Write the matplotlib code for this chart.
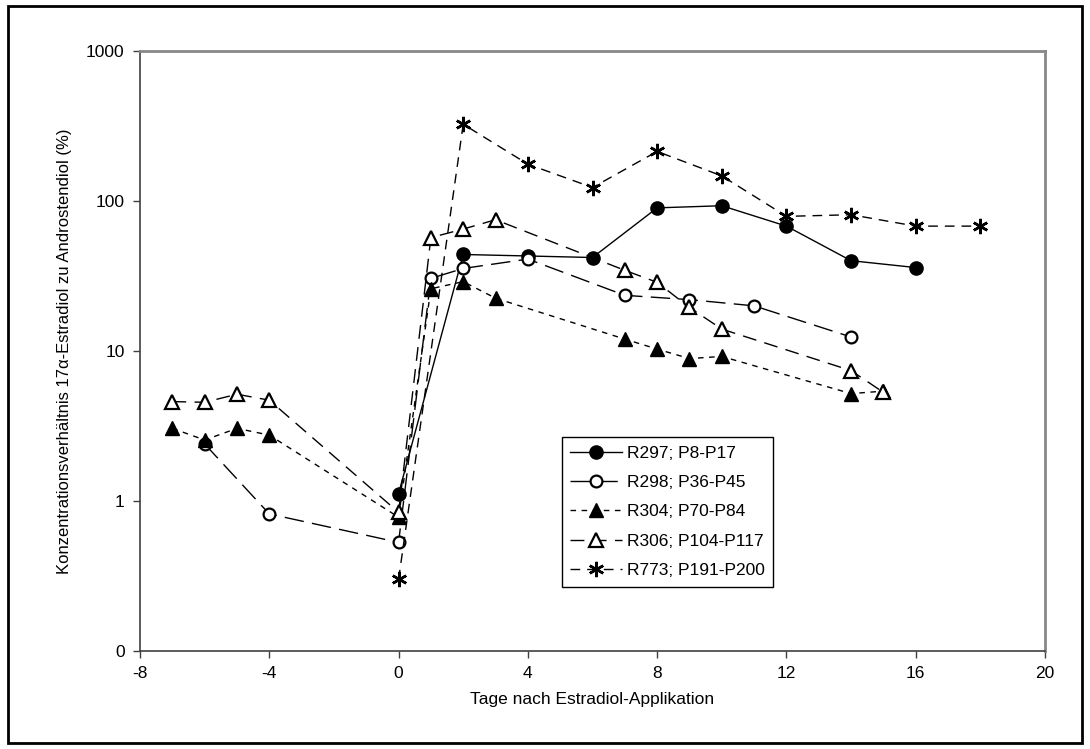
import numpy as np
import matplotlib.pyplot as plt
from matplotlib.patches import Rectangle
from matplotlib.ticker import FixedLocator, NullLocator

plt.rcParams['font.family'] = ['Liberation Sans', 'DejaVu Sans']
plt.rcParams['axes.unicode_minus'] = False

# Werte
r297_x = [0, 2, 4, 6, 8, 10, 12, 14, 16]
r297_y = [1.12, 44, 43, 42, 90, 93, 68, 40, 36]

r298_x = [-6, -4, 0, 1, 2, 4, 7, 9, 11, 14]
r298_y = [2.4, 0.82, 0.53, 30.5, 35.5, 41, 23.5, 22, 20, 12.4]

r304_x = [-7, -6, -5, -4, 0, 1, 2, 3, 7, 8, 9, 10, 14, 15]
r304_y = [3.05, 2.55, 3.05, 2.75, 0.78, 26, 29, 22.5, 12, 10.3, 8.9, 9.2, 5.2, 5.4]

r306_x = [-7, -6, -5, -4, 0, 1, 2, 3, 7, 8, 9, 10, 14, 15]
r306_y = [4.6, 4.55, 5.15, 4.7, 0.84, 57, 65, 75, 34.5, 28.7, 19.5, 14, 7.4, 5.3]

r773_x = [0, 2, 4, 6, 8, 10, 12, 14, 16, 18]
r773_y = [0.30, 325, 176, 123, 214, 147, 79, 81, 68, 68]

labels = ["R297; P8-P17", "R298; P36-P45", "R304; P70-P84",
          "R306; P104-P117", "R773; P191-P200"]

fig = plt.figure(figsize=(10.9, 7.49), dpi=100)
ax = fig.add_axes([140 / 1090, 1 - 651 / 749, 905 / 1090, 600 / 749])

ax.plot(r297_x, r297_y, color='black', lw=1.0, ls='-', marker='o',
        ms=9.5, mfc='black', mec='black', label=labels[0])
ax.plot(r298_x, r298_y, color='black', lw=1.0, ls=(0, (14, 6)), marker='o',
        ms=8.5, mfc='white', mec='black', mew=1.6, label=labels[1])
ax.plot(r304_x, r304_y, color='black', lw=1.0, ls=(0, (4, 4)), marker='^',
        ms=10, mfc='black', mec='black', label=labels[2])
ax.plot(r306_x, r306_y, color='black', lw=1.0, ls=(0, (10, 6)), marker='^',
        ms=9.5, mfc='white', mec='black', mew=1.6, label=labels[3])
ax.plot(r773_x, r773_y, color='black', lw=1.0, ls=(0, (7, 5)), marker=(6, 2, 0),
        ms=11, mec='black', mew=1.8, label=labels[4])

ax.set_yscale('log')
ax.set_ylim(0.1, 1000)
ax.set_xlim(-8, 20)
ax.set_xticks(np.arange(-8, 21, 4))
ax.yaxis.set_major_locator(FixedLocator([0.1, 1, 10, 100, 1000]))
ax.yaxis.set_minor_locator(NullLocator())
ax.set_yticklabels(['0', '1', '10', '100', '1000'])

ax.tick_params(axis='both', direction='out', length=5, width=1, color='#404040',
               labelsize=12.5, pad=6)
for s in ['left', 'bottom']:
    ax.spines[s].set_color('#404040')
    ax.spines[s].set_linewidth(1.2)
for s in ['top', 'right']:
    ax.spines[s].set_color('#888888')
    ax.spines[s].set_linewidth(2)

ax.set_xlabel('Tage nach Estradiol-Applikation', fontsize=12.5, labelpad=8)
ax.set_ylabel('Konzentrationsverhältnis 17α-Estradiol zu Androstendiol (%)',
              fontsize=12, labelpad=10)

leg = ax.legend(loc='upper left', bbox_to_anchor=(0.466, 0.357), fontsize=12.5,
                frameon=True, fancybox=False, edgecolor='black', framealpha=1,
                handlelength=3.0, borderpad=0.5, labelspacing=0.82,
                handletextpad=0.25, borderaxespad=0)
leg.get_frame().set_linewidth(1.0)

fig.patches.append(Rectangle((8 / 1090, 6 / 749), 1074 / 1090, 737 / 749,
                             transform=fig.transFigure, fill=False,
                             edgecolor='black', lw=2))

fig.savefig('out.png', dpi=100)
